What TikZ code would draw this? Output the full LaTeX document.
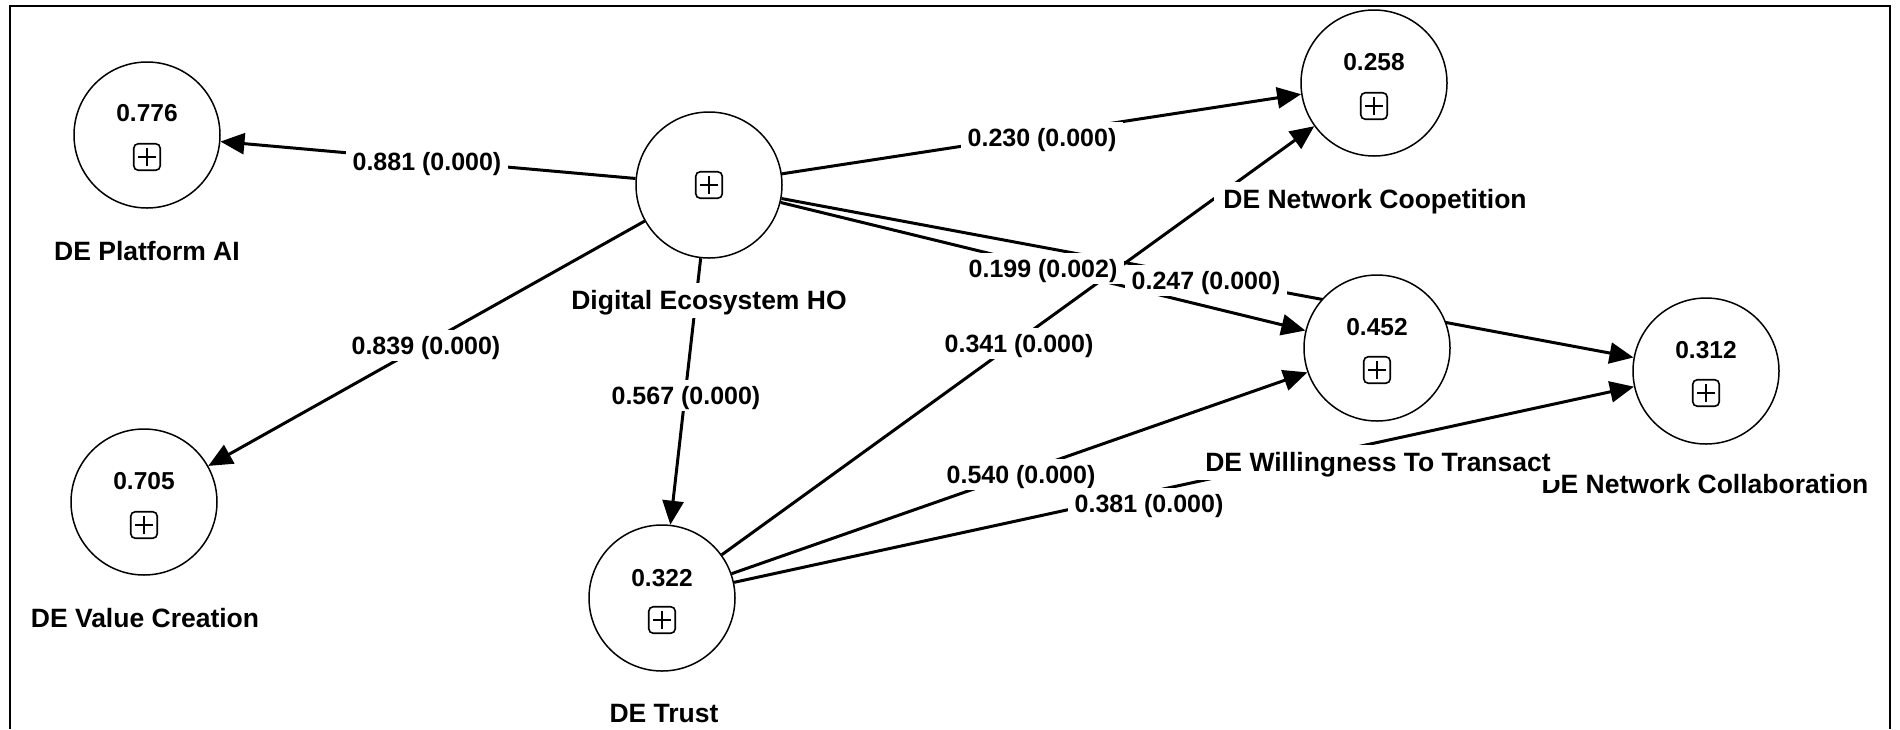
\documentclass[tikz,border=0pt]{standalone}
\usepackage{fontspec}
\setmainfont{Liberation Sans}
\usetikzlibrary{arrows.meta}
\pgfdeclarelayer{edges}
\pgfdeclarelayer{coefs}
\pgfsetlayers{edges,coefs,main}

\begin{document}
\begin{tikzpicture}[x=1pt,y=-1pt,
  lv/.style={circle,draw,fill=white,line width=1.5pt,minimum size=146pt,inner sep=0pt},
  val/.style={font=\fontsize{24.5}{28}\selectfont\bfseries,anchor=base,inner sep=0pt},
  expbox/.style={draw,fill=white,rounded corners=4.5pt,line width=1.6pt,minimum size=26.5pt,inner sep=0pt,
    path picture={\draw[line width=1.5pt]
      ([xshift=-9pt]path picture bounding box.center) -- ([xshift=9pt]path picture bounding box.center)
      ([yshift=-9pt]path picture bounding box.center) -- ([yshift=9pt]path picture bounding box.center);}},
  lvname/.style={font=\fontsize{26.5}{30}\selectfont\bfseries,anchor=base,fill=white,
    text height=24pt,text depth=6pt,inner xsep=9pt,inner ysep=2.5pt},
  coef/.style={font=\fontsize{25}{28}\selectfont\bfseries,anchor=base,fill=white,
    text height=22.6pt,text depth=5.3pt,inner xsep=7pt,inner ysep=1.5pt},
  link/.style={line width=3pt,-{Triangle[length=24pt,width=21pt]}},
]
\useasboundingbox (0,0) rectangle (1900,729);

% outer frame (open at the bottom)
\draw[line width=2pt] (10,729) -- (10,6) -- (1890,6) -- (1890,729);

% latent variables
\node[lv] (pai) at (147,135) {};
\node[val] (pai-v) at (147,121.8) {0.776};
\node[expbox] (pai-b) at (147,157) {};

\node[lv] (dho) at (709,185) {};
\node[expbox] (dho-b) at (709,185) {};

\node[lv] (vc) at (144,502) {};
\node[val] (vc-v) at (144,489.8) {0.705};
\node[expbox] (vc-b) at (144,525) {};

\node[lv] (tr) at (662,598) {};
\node[val] (tr-v) at (662,586.8) {0.322};
\node[expbox] (tr-b) at (662,620) {};

\node[lv] (nco) at (1374,83) {};
\node[val] (nco-v) at (1374,70.8) {0.258};
\node[expbox] (nco-b) at (1374,106) {};

\node[lv] (wt) at (1377,348) {};
\node[val] (wt-v) at (1377,335.8) {0.452};
\node[expbox] (wt-b) at (1377,370) {};

\node[lv] (ncl) at (1706,371) {};
\node[val] (ncl-v) at (1706,358.8) {0.312};
\node[expbox] (ncl-b) at (1706,393) {};

% names under the circles
\node[lvname] (pai-l) at (147,260.5) {DE Platform AI};
\node[lvname] (dho-l) at (709,309.5) {Digital Ecosystem HO};
\node[lvname] (vc-l) at (145,627.5) {DE Value Creation};
\node[lvname] (tr-l) at (664,722.5) {DE Trust};
\node[lvname] (nco-l) at (1375,208.5) {DE Network Coopetition};
\node[lvname] (ncl-l) at (1705,493.5) {DE Network Collaboration};
\node[lvname] (wt-l) at (1378,471.5) {DE Willingness To Transact};

% paths
\begin{pgfonlayer}{edges}
\draw[link] (dho) -- (pai);
\draw[link] (dho) -- (vc);
\draw[link] (dho) -- (tr);
\draw[link] (dho) -- (nco);
\draw[link] (dho) -- (wt);
\draw[link] (dho) -- (ncl);
\draw[link] (tr) -- (nco);
\draw[link] (tr) -- (wt);
\draw[link] (tr) -- (ncl);
\end{pgfonlayer}

% path coefficients (p-values)
\begin{pgfonlayer}{coefs}
\node[coef] (c-pai) at (427,170) {0.881 (0.000)};
\node[coef] (c-vc) at (426,354) {0.839 (0.000)};
\node[coef] (c-tr) at (686,404) {0.567 (0.000)};
\node[coef] (c-nco) at (1042,146) {0.230 (0.000)};
\node[coef] (c-wt) at (1043,277) {0.199 (0.002)};
\node[coef] (c-ncl) at (1206,289) {0.247 (0.000)};
\node[coef] (c-trnco) at (1019,352) {0.341 (0.000)};
\node[coef] (c-trwt) at (1021,483) {0.540 (0.000)};
\node[coef] (c-trncl) at (1149,512) {0.381 (0.000)};
\end{pgfonlayer}
\end{tikzpicture}
\end{document}
